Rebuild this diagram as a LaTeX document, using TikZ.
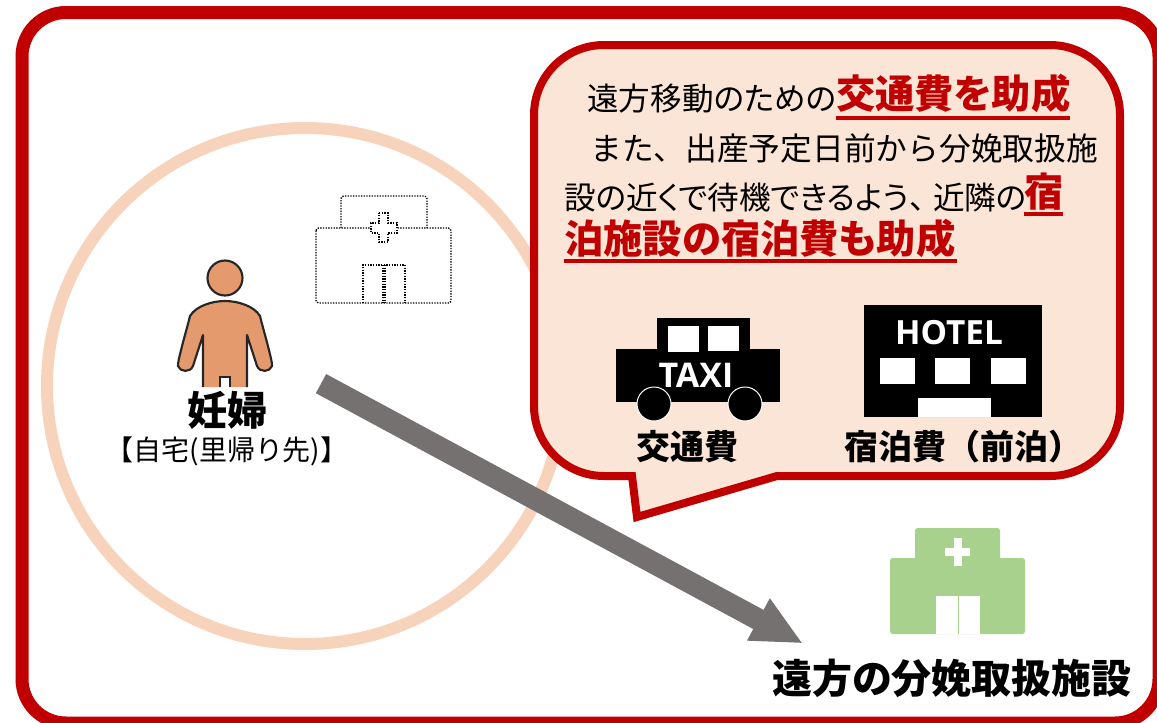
\documentclass[tikz,border=0pt]{standalone}
\usepackage{fontspec}
\setmainfont{Noto Sans CJK JP}[RawFeature=+palt]
\newfontfamily\fullfont{Noto Sans CJK JP}
\newfontfamily\latinfont{Open Sans}
\usetikzlibrary{positioning,arrows.meta}
\definecolor{framered}{HTML}{C00000}
\definecolor{bubblefill}{HTML}{FBE5D6}
\definecolor{ringpeach}{HTML}{F8D3BC}
\definecolor{skinorange}{HTML}{E59A6E}
\definecolor{arrowgray}{HTML}{767171}
\definecolor{hospitalgreen}{HTML}{A9D18E}
\tikzset{
  line/.style={inner sep=0pt,font=\fontsize{#1}{#1}\selectfont},
  fullline/.style={inner sep=0pt,font=\fullfont\fontsize{#1}{#1}\selectfont},
  strong/.style={inner sep=0pt,text=framered,font=\fontsize{29.5}{30}\selectfont\bfseries},
  caption/.style={inner sep=0pt,font=\fontsize{#1}{#1}\selectfont\bfseries},
  fullcaption/.style={inner sep=0pt,font=\fullfont\fontsize{#1}{#1}\selectfont\bfseries},
  redrule/.style={framered,line width=3pt},
  plan/.style={dash pattern=on 1pt off 1pt,line width=1pt,rounded corners=2pt},
  arrowbig/.style={arrowgray,line width=16.3pt,-{Triangle[length=38pt,width=33pt]}}
}
\begin{document}
\begin{tikzpicture}[x=0.75pt,y=-0.75pt]
        \clip (0,0) rectangle (1157,722);
        % Ring and outer frame
        \draw[ringpeach,line width=9pt] (305,386) circle [radius=258];
        \draw[framered,line width=9.75pt,rounded corners=33pt] (22,12.5) rectangle (1159,723);
        % Person
        \fill[skinorange,draw=black!85,line width=1.6pt] (225,278) circle [radius=17.5];
        \draw[skinorange,fill=skinorange] (204,386) rectangle (246,340);
        \path[fill=skinorange,draw=black!85,line width=1.6pt,line join=round]
            (203,387) -- (203,335) -- (193,366) .. controls (190,373) and (180,372) .. (178,366)
            .. controls (177,362) and (188,325) .. (190,316)
            .. controls (196,306) and (212,301) .. (225,301)
            .. controls (238,301) and (254,306) .. (260,316)
            .. controls (262,325) and (273,362) .. (272,366)
            .. controls (270,372) and (260,373) .. (257,366)
            -- (247,335) -- (247,387);
        \fill[white] (220,377) rectangle (230,388);
        \draw[black!85,line width=1.2pt] (220,387) -- (220,377) -- (230,377) -- (230,387);
        \node[caption=30] (woman) at (227,410) {妊婦};
        \node[fullline=21] (home) at (227,451) {【自宅(里帰り先)】};
        % Local hospital (dotted)
        \draw[plan] (341,228) -- (341,196) -- (427,196) -- (427,228);
        \draw[plan] (316,228) rectangle (451,303);
        \draw[plan,rounded corners=0pt,fill=white] (379,213) -- (388,213) -- (388,223) -- (397,223)
            -- (397,233) -- (388,233) -- (388,242) -- (379,242) -- (379,233) -- (371,233)
            -- (371,223) -- (379,223) -- cycle;
        \draw[plan,rounded corners=0pt] (363,303) -- (363,265) -- (405,265) -- (405,303);
        \draw[plan,rounded corners=0pt] (383,265) -- (383,303) (385,265) -- (385,303);
        % Arrow
        \coordinate (start) at (321,383.6);
        \coordinate (goal) at (803,643.5);
        \draw[arrowbig] (start) -- (goal);
        % Speech bubble
        \draw[framered,line width=6pt,fill=bubblefill,line join=miter]
            (604,45) -- (1050,45) arc[start angle=-90,end angle=0,radius=70] -- (1120,406)
            arc[start angle=0,end angle=90,radius=70] -- (777,476) -- (637,517) -- (632,476)
            -- (604,476) arc[start angle=90,end angle=180,radius=70] -- (534,115)
            arc[start angle=180,end angle=270,radius=70] -- cycle;
        % Bubble text
        \node[line=23.7,anchor=base west] (textA) at (587,110) {遠方移動のための};
        \node[strong,anchor=base west] (textB) at (836,108.5) {交通費を助成};
        \node[fullline=23.8,anchor=base west] (textC) at (590,160) {また、出産予定日前から分娩取扱施};
        \node[line=23.7,anchor=base west] (textD) at (564,209) {設の近くで待機できるよう、\hspace{0.25em}近隣の};
        \node[strong,anchor=base west] (textE) at (1024,206) {宿};
        \node[strong,anchor=base west] (textF) at (564,253) {泊施設の宿泊費も助成};
        \draw[redrule] (textB.base west) ++(0,9) -- ++(234,0);
        \draw[redrule] (textE.base west) ++(0,8) -- ++(39,0);
        \draw[redrule] (textF.base west) ++(0,8) -- ++(393,0);
        % Taxi
        \fill (657,318) rectangle (750,350);
        \fill (616,349) rectangle (780,402);
        \fill[white] (668,326) rectangle (699,352);
        \fill[white] (708,326) rectangle (739,351);
        \node[inner sep=0pt,text=white,font=\latinfont\fontsize{25.5}{25.5}\selectfont\bfseries] (taxi) at (696,375) {TAXI};
        \draw[white,fill=black,line width=0.75pt] (654,404) circle [radius=17];
        \draw[white,fill=black,line width=0.75pt] (745,404) circle [radius=17];
        \node[caption=25.5] (fare) at (687,447) {交通費};
        % Hotel
        \fill (864,305) rectangle (1042,417);
        \node[inner sep=0pt,text=white,font=\latinfont\fontsize{25}{25}\selectfont\bfseries] (hotel) at (949,333) {HOTEL};
        \fill[white] (880,358) rectangle (915,384);
        \fill[white] (935,358) rectangle (970,384);
        \fill[white] (991,358) rectangle (1026,384);
        \fill[white] (918,398) rectangle (991,417);
        \node[fullcaption=25.5,anchor=west] (lodging) at (844,447) {宿泊費（前泊）};
        % Distant hospital
        \fill[hospitalgreen,rounded corners=2pt] (915,528) rectangle (1000,570);
        \fill[hospitalgreen,rounded corners=2pt] (890,558) rectangle (1025,634);
        \fill[white] (953.5,538) rectangle (962,566);
        \fill[white] (945,548) rectangle (970,556);
        \fill[white] (936,596) rectangle (980,634);
        \fill[hospitalgreen] (957.5,596) rectangle (959,634);
        \node[caption=30] (facility) at (952,678) {遠方の分娩取扱施設};
    \end{tikzpicture}
\end{document}
